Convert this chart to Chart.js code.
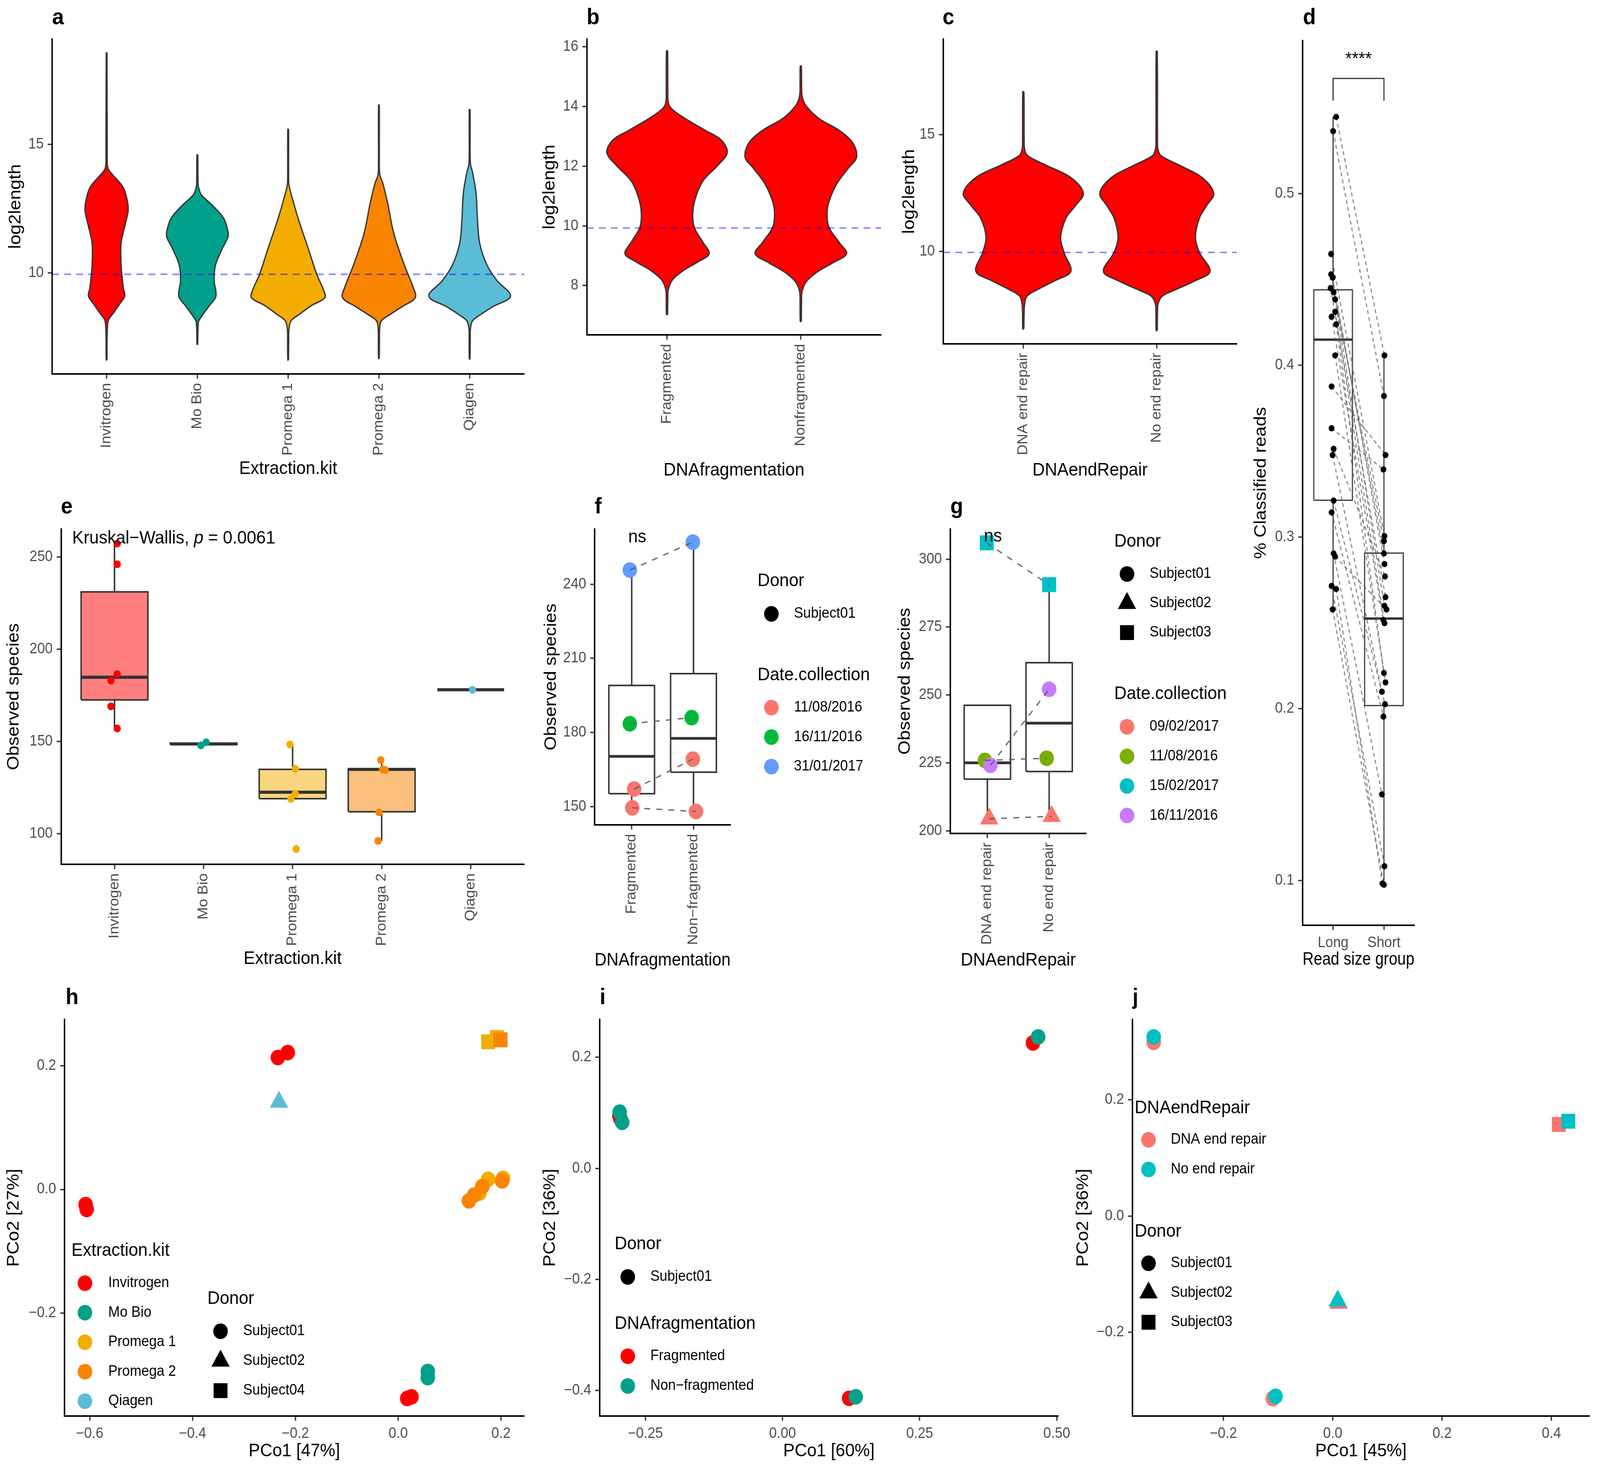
<!DOCTYPE html>
<html lang="en">
<head>
  <meta charset="UTF-8" />
  <title>Read length, diversity and PCoA by protocol</title>
  <script src="https://cdn.jsdelivr.net/npm/chart.js"></script>
  <style>
    html, body { margin: 0; padding: 0; background: #ffffff; overflow: hidden; }
    #fig { position: relative; background: #ffffff; overflow: hidden; }
    #fig canvas { position: absolute; }
  </style>
</head>
<body>
  <div id="fig"></div>

  <script>
    // ---------- data ----------
    const kits = ['Invitrogen', 'Mo Bio', 'Promega 1', 'Promega 2', 'Qiagen'];
    const kitColors = ['#FF0000', '#00A08A', '#F2AD00', '#F98400', '#5BBCD6'];
    const kitFill = ['#FF7F7F', '#7FCFC4', '#F8D67F', '#FCC17F', '#ADDDEA'];

    // violins: log2length levels and half widths (in category units)
    const aViolinY = [
      [6.60, 7.5, 8.0, 8.18, 8.48, 8.79, 9.09, 9.40, 9.70, 10.3, 11.15, 11.88, 12.43, 12.86, 13.34, 13.82, 14.07, 14.6, 18.56],
      [7.21, 7.7, 8.0, 8.12, 8.36, 8.73, 9.09, 9.7, 10.3, 10.91, 11.4, 11.64, 12.12, 12.61, 13.03, 13.34, 13.6, 14.59],
      [6.6, 7.4, 7.76, 8.12, 8.36, 8.73, 9.03, 9.33, 9.94, 10.91, 12.12, 13.1, 13.46, 14.0, 15.58],
      [6.66, 7.4, 7.8, 8.12, 8.36, 8.67, 9.03, 9.45, 10.3, 11.52, 12.73, 13.46, 13.82, 14.3, 16.53],
      [6.64, 7.4, 7.8, 8.12, 8.36, 8.67, 9.09, 9.7, 10.3, 11.15, 12.12, 13.1, 13.94, 14.19, 14.6, 16.35]
    ];
    const aViolinW = [
      [0.004, 0.006, 0.012, 0.023, 0.085, 0.145, 0.20, 0.185, 0.175, 0.16, 0.16, 0.205, 0.238, 0.225, 0.18, 0.065, 0.015, 0.007, 0.004],
      [0.004, 0.006, 0.01, 0.015, 0.058, 0.135, 0.205, 0.185, 0.20, 0.27, 0.338, 0.335, 0.29, 0.17, 0.046, 0.012, 0.007, 0.004],
      [0.004, 0.006, 0.008, 0.03, 0.115, 0.26, 0.405, 0.39, 0.315, 0.225, 0.11, 0.03, 0.008, 0.005, 0.004],
      [0.004, 0.006, 0.008, 0.025, 0.115, 0.25, 0.40, 0.375, 0.28, 0.165, 0.095, 0.045, 0.01, 0.005, 0.004],
      [0.004, 0.006, 0.008, 0.03, 0.115, 0.25, 0.45, 0.30, 0.19, 0.11, 0.085, 0.07, 0.03, 0.01, 0.005, 0.004]
    ];
    const bCats = ['Fragmented', 'Nonfragmented'];
    const bViolinY = [
      [7.03, 7.6, 7.87, 8.19, 8.5, 8.81, 9.07, 9.44, 9.96, 10.48, 11.0, 11.52, 12.03, 12.46, 12.88, 13.19, 13.6, 13.92, 14.13, 14.6, 15.86],
      [6.8, 7.5, 7.82, 8.13, 8.45, 8.76, 9.07, 9.44, 9.96, 10.48, 10.9, 11.42, 11.94, 12.3, 12.77, 13.19, 13.6, 14.02, 14.34, 14.8, 15.35]
    ];
    const bViolinW = [
      [0.004, 0.006, 0.01, 0.04, 0.12, 0.237, 0.315, 0.27, 0.203, 0.193, 0.217, 0.27, 0.38, 0.45, 0.405, 0.29, 0.135, 0.035, 0.01, 0.006, 0.004],
      [0.004, 0.006, 0.01, 0.04, 0.12, 0.237, 0.342, 0.288, 0.21, 0.197, 0.217, 0.27, 0.356, 0.417, 0.39, 0.29, 0.135, 0.04, 0.01, 0.006, 0.004]
    ];
    const cCats = ['DNA end repair', 'No end repair'];
    const cViolinY = [
      [6.67, 7.4, 7.74, 8.07, 8.34, 8.74, 9.14, 9.95, 10.61, 11.42, 11.95, 12.49, 13.16, 13.69, 14.09, 14.36, 14.8, 16.83],
      [6.6, 7.4, 7.74, 8.07, 8.34, 8.74, 9.14, 9.95, 10.61, 11.42, 11.95, 12.49, 13.16, 13.69, 14.09, 14.36, 14.8, 18.57]
    ];
    const cViolinW = [
      [0.004, 0.006, 0.01, 0.027, 0.10, 0.237, 0.356, 0.305, 0.28, 0.32, 0.39, 0.45, 0.356, 0.17, 0.034, 0.01, 0.006, 0.004],
      [0.004, 0.006, 0.01, 0.04, 0.135, 0.29, 0.40, 0.32, 0.29, 0.32, 0.373, 0.427, 0.34, 0.17, 0.034, 0.01, 0.006, 0.004]
    ];
    const refLog2 = [9.94, 9.93, 9.95];   // dashed reference line in a, b, c

    // d: paired % classified reads
    const dGroups = ['Long', 'Short'];
    const dBox = [[0.258, 0.3214, 0.4149, 0.4439, 0.5446], [0.0975, 0.2018, 0.2525, 0.2906, 0.4058]];
    const dLongY = [0.5446, 0.5363, 0.4648, 0.4529, 0.4510, 0.4449, 0.4425, 0.4383, 0.4311, 0.4282, 0.4238, 0.4057, 0.3876, 0.3633, 0.3513, 0.3477, 0.3212, 0.3143, 0.2904, 0.2886, 0.2715, 0.2697, 0.2578];
    const dShortY = [0.4057, 0.3821, 0.3005, 0.2904, 0.2842, 0.2650, 0.2976, 0.2599, 0.2498, 0.2516, 0.2208, 0.2153, 0.3477, 0.3393, 0.2770, 0.2099, 0.2026, 0.1954, 0.1501, 0.2578, 0.1083, 0.0982, 0.0975];
    const dLongX = [1.06, 1.00, 0.96, 0.96, 0.99, 0.95, 1.01, 1.04, 1.04, 0.97, 1.06, 1.04, 0.97, 0.97, 1.01, 0.99, 1.01, 0.97, 1.01, 1.04, 0.97, 1.06, 0.99];
    const dShortX = [2.01, 2.00, 2.01, 2.00, 2.01, 2.03, 2.00, 2.01, 2.01, 1.99, 2.00, 2.03, 2.03, 1.99, 2.02, 1.96, 2.02, 1.99, 1.96, 2.05, 2.01, 1.97, 2.00];
    const dBracket = [0.554, 0.567];

    // e: observed species by kit
    const eBox = [[157.0, 172.5, 184.8, 231.1, 257.6], [147.8, 148.2, 148.6, 149.1, 149.5], [118.9, 118.9, 122.4, 134.8, 148.3], [96.0, 111.8, 134.8, 135.1, 139.9], [178, 178, 178, 178, 178]];
    const ePtKit = [0, 0, 0, 0, 0, 0, 1, 1, 2, 2, 2, 2, 2, 3, 3, 3, 3, 3, 4];
    const ePtX = [1.03, 1.03, 1.03, 0.96, 0.96, 1.03, 1.97, 2.03, 2.97, 3.03, 3.03, 2.98, 3.04, 3.99, 4.01, 4.04, 3.97, 3.96, 5.02];
    const ePtY = [257.3, 246.1, 186.5, 183.0, 169.0, 157.0, 147.8, 149.5, 148.3, 135.1, 121.6, 118.8, 91.6, 139.9, 134.8, 134.5, 111.5, 96.0, 178.0];

    // f: observed species by fragmentation
    const fCats = ['Fragmented', 'Non\u2212fragmented'];
    const fDates = ['11/08/2016', '16/11/2016', '31/01/2017'];
    const fDateColors = ['#F8766D', '#00BA38', '#619CFF'];
    const fBox = [[149.5, 155.2, 170.3, 199.0, 245.7], [148.0, 163.9, 177.6, 203.8, 257.0]];
    const fDateIdx = [2, 1, 0, 0];
    const fFragY = [245.7, 183.5, 157.1, 149.5];
    const fNonY = [257.0, 186.0, 169.2, 148.0];
    const fFragX = [0.97, 0.97, 1.04, 1.01];
    const fNonX = [1.99, 1.97, 1.99, 2.04];

    // g: observed species by end repair
    const gDonors = ['Subject01', 'Subject02', 'Subject03'];
    const gDates = ['09/02/2017', '11/08/2016', '15/02/2017', '16/11/2016'];
    const gDateColors = ['#F8766D', '#7CAE00', '#00BFC4', '#C77CFF'];
    const gBox = [[204.4, 219.0, 225.0, 246.2, 246.2], [205.3, 221.8, 239.6, 261.9, 290.6]];
    const gDateIdx = [2, 1, 3, 0];
    const gDonorIdx = [2, 0, 0, 1];
    const gRepY = [306.0, 225.9, 224.1, 204.4];
    const gNoY = [290.6, 226.7, 252.1, 205.3];
    const gRepX = [0.99, 0.96, 1.05, 1.03];
    const gNoX = [2.00, 1.96, 2.00, 2.04];

    // h: PCoA by kit
    const hDonors = ['Subject01', 'Subject02', 'Subject04'];
    const hPtKit = [0, 0, 0, 0, 0, 0, 1, 1, 2, 2, 2, 2, 2, 3, 3, 3, 3, 3, 4];
    const hPtDonor = [0, 0, 0, 0, 0, 0, 0, 0, 2, 2, 0, 0, 0, 2, 0, 0, 0, 0, 1];
    const hPtX = [-0.234, -0.215, -0.608, -0.606, 0.0176, 0.0258, 0.0576, 0.0576, 0.175, 0.192, 0.175, 0.204, 0.158, 0.199, 0.1376, 0.1478, 0.1634, 0.202, -0.232];
    const hPtY = [0.213, 0.221, -0.0246, -0.0323, -0.3376, -0.335, -0.294, -0.304, 0.2385, 0.2452, 0.0164, 0.0179, -0.006, 0.2416, -0.0185, -0.0092, 0.0046, 0.0139, 0.141];

    // i: PCoA by fragmentation
    const iGroups = ['Fragmented', 'Non\u2212fragmented'];
    const iColors = ['#FF0000', '#00A08A'];
    const iPtGroup = [0, 0, 0, 0, 1, 1, 1, 1];
    const iPtX = [0.4565, -0.2975, -0.2955, 0.1214, 0.466, -0.2969, -0.2924, 0.1335];
    const iPtY = [0.2258, 0.0950, 0.0890, -0.4139, 0.2367, 0.1013, 0.0830, -0.4111];

    // j: PCoA by end repair
    const jGroups = ['DNA end repair', 'No end repair'];
    const jColors = ['#F8766D', '#00BFC4'];
    const jPtGroup = [0, 0, 0, 0, 1, 1, 1, 1];
    const jPtDonor = [0, 2, 1, 0, 0, 2, 1, 0];
    const jPtX = [-0.3274, 0.4135, 0.0111, -0.1095, -0.3274, 0.4308, 0.0092, -0.1046];
    const jPtY = [0.2984, 0.1574, -0.1497, -0.3137, 0.3077, 0.1628, -0.1459, -0.3098];

    // tick values and labels
    const violinTicksA = [10, 15];
    const violinTicksB = [8, 10, 12, 14, 16];
    const dYTicks = [0.1, 0.2, 0.3, 0.4, 0.5];
    const eYTicks = [100, 150, 200, 250];
    const fYTicks = [150, 180, 210, 240];
    const gYTicks = [200, 225, 250, 275, 300];
    const hXTicks = [-0.6, -0.4, -0.2, 0, 0.2];
    const hXLabels = ['\u22120.6', '\u22120.4', '\u22120.2', '0.0', '0.2'];
    const hYTicks = [-0.2, 0, 0.2];
    const hYLabels = ['\u22120.2', '0.0', '0.2'];
    const iXTicks = [-0.25, 0, 0.25, 0.5];
    const iXLabels = ['\u22120.25', '0.00', '0.25', '0.50'];
    const iYTicks = [-0.4, -0.2, 0, 0.2];
    const iYLabels = ['\u22120.4', '\u22120.2', '0.0', '0.2'];
    const jXTicks = [-0.2, 0, 0.2, 0.4];
    const jXLabels = ['\u22120.2', '0.0', '0.2', '0.4'];
    const jYTicks = [-0.2, 0, 0.2];
    const jYLabels = ['\u22120.2', '0.0', '0.2'];

    // ---------- drawing helpers ----------
    const FONT = "'Liberation Sans', Arial, Helvetica, sans-serif";
    Chart.defaults.font.family = FONT;
    Chart.defaults.animation = false;
    Chart.defaults.plugins.legend.display = false;
    Chart.defaults.plugins.tooltip.enabled = false;

    // the figure is laid out on a 4390 x 3757 grid; squeeze it to the real window
    const FIG_W = 4390, FIG_H = 3757;
    const SX = Math.min(1, (window.innerWidth || FIG_W) / FIG_W);
    const SY = Math.min(1, (window.innerHeight || FIG_H) / FIG_H);
    const fig = document.getElementById('fig');
    fig.style.width = FIG_W * SX + 'px';
    fig.style.height = FIG_H * SY + 'px';

    const SHAPES = ['circle', 'triangle', 'rect'];
    const SHAPE_R = { circle: 20, triangle: 29, rect: 27 };
    const range = n => Array.from({ length: n }, (_, i) => i + 1);

    function seg(pts, style) {
      return Object.assign({ data: pts, showLine: true, pointRadius: 0, fill: false,
        borderColor: '#333333', borderWidth: 3.5 }, style);
    }

    function violin(cx, ys, ws, color) {
      const right = ys.map((y, i) => ({ x: cx + ws[i], y }));
      const left = ys.map((y, i) => ({ x: cx - ws[i], y })).reverse();
      return seg(right.concat(left, [right[0]]), { fill: 'shape', backgroundColor: color,
        borderColor: '#333333', borderWidth: 3.5, tension: 0.35 });
    }

    function boxParts(cx, s, hw, opt) {
      const [lo, q1, med, q3, hi] = s;
      const out = [];
      if (hi > q3) out.push(seg([{ x: cx, y: q3 }, { x: cx, y: hi }], { borderWidth: opt.lw }));
      if (lo < q1) out.push(seg([{ x: cx, y: lo }, { x: cx, y: q1 }], { borderWidth: opt.lw }));
      out.push(seg([{ x: cx - hw, y: q1 }, { x: cx + hw, y: q1 }, { x: cx + hw, y: q3 }, { x: cx - hw, y: q3 }, { x: cx - hw, y: q1 }],
        { borderWidth: opt.lw, borderJoinStyle: 'miter', fill: opt.fill ? 'shape' : false, backgroundColor: opt.fill || 'transparent' }));
      out.push(seg([{ x: cx - hw, y: med }, { x: cx + hw, y: med }], { borderWidth: opt.medLw }));
      return out;
    }

    function pts(xs, ys, color, radius, style) {
      return { data: xs.map((x, i) => ({ x, y: ys[i] })), showLine: false,
        pointBackgroundColor: color, pointBorderWidth: 0, pointRadius: radius, pointStyle: style || 'circle' };
    }

    function drawMark(ctx, shape, r, x, y) {
      if (Chart.helpers && Chart.helpers.drawPoint) {
        Chart.helpers.drawPoint(ctx, { pointStyle: shape, radius: r, rotation: 0, borderWidth: 0 }, x, y);
        return;
      }
      ctx.beginPath();
      if (shape === 'rect') { const h = r * Math.SQRT1_2; ctx.rect(x - h, y - h, 2 * h, 2 * h); }
      else if (shape === 'triangle') { ctx.moveTo(x, y - r); ctx.lineTo(x + 0.866 * r, y + r / 2); ctx.lineTo(x - 0.866 * r, y + r / 2); ctx.closePath(); }
      else ctx.arc(x, y, r, 0, Math.PI * 2);
      ctx.fill();
    }

    // texts, panel letter and ggplot-style legends for one chart
    function extras(box, texts, legends) {
      return {
        id: 'ggExtras',
        afterDraw(chart) {
          const ctx = chart.ctx, sx = chart.scales.x, sy = chart.scales.y;
          ctx.save();
          for (const t of texts) {
            const x = t.data ? sx.getPixelForValue(t.x) : t.x - box.x0;
            const y = t.data ? sy.getPixelForValue(t.y) : t.y - box.y0;
            const parts = t.parts || [{ text: t.text }];
            const fontOf = p => `${p.italic ? 'italic ' : ''}${t.bold ? 'bold ' : ''}${t.size}px ${FONT}`;
            const widths = parts.map(p => { ctx.font = fontOf(p); return ctx.measureText(p.text).width; });
            let cx = t.align === 'center' ? x - widths.reduce((a, b) => a + b, 0) / 2 : x;
            ctx.fillStyle = '#000000';
            ctx.textAlign = 'left';
            ctx.textBaseline = t.baseline || 'middle';
            parts.forEach((p, i) => { ctx.font = fontOf(p); ctx.fillText(p.text, cx, y); cx += widths[i]; });
          }
          for (const g of legends) {
            ctx.textAlign = 'left';
            ctx.textBaseline = 'middle';
            ctx.fillStyle = '#000000';
            ctx.font = `47px ${FONT}`;
            ctx.fillText(g.title, g.x - box.x0, g.y - box.y0);
            ctx.font = `38px ${FONT}`;
            g.items.forEach((it, i) => {
              const y = g.y0 + i * g.step - box.y0;
              ctx.fillStyle = it.color;
              drawMark(ctx, it.shape, SHAPE_R[it.shape], g.sx - box.x0, y);
              ctx.fillStyle = '#000000';
              ctx.fillText(it.label, g.lx - box.x0, y);
            });
          }
          ctx.restore();
        }
      };
    }

    function panel(p) {
      const b = p.box, r = p.plot;
      const cv = document.createElement('canvas');
      cv.width = b.x1 - b.x0;
      cv.height = b.y1 - b.y0;
      cv.style.left = b.x0 * SX + 'px';
      cv.style.top = b.y0 * SY + 'px';
      cv.style.width = cv.width * SX + 'px';
      cv.style.height = cv.height * SY + 'px';
      fig.appendChild(cv);
      p.datasets.forEach((d, i) => { d.order = -i; });   // later datasets drawn on top

      const scale = (ax, horiz) => ({
        type: 'linear', min: ax.min, max: ax.max,
        afterBuildTicks: s => { s.ticks = ax.ticks.map(v => ({ value: v })); },
        afterFit: s => { if (horiz) s.height = b.y1 - r.b; else s.width = r.l - b.x0; },
        ticks: {
          autoSkip: false, color: '#4D4D4D', font: { size: 38 }, padding: 11,
          maxRotation: ax.rot || 0, minRotation: ax.rot || 0,
          callback: (v, i) => (ax.labels ? ax.labels[i] : String(v))
        },
        grid: { drawOnChartArea: false, drawTicks: true, tickLength: 12, tickWidth: 3.5, tickColor: '#333333' },
        border: { display: true, color: '#000000', width: 4 },
        title: {
          display: true, text: ax.title, color: '#000000', font: { size: 47, lineHeight: 1 },
          padding: horiz ? { top: 0, bottom: b.y1 - ax.titleAt - 23.5 } : { top: ax.titleAt - b.x0 - 23.5, bottom: 0 }
        }
      });

      return new Chart(cv, {
        type: 'scatter',
        data: { datasets: p.datasets },
        options: {
          responsive: false,
          devicePixelRatio: 1,
          layout: { padding: { top: r.t - b.y0, right: b.x1 - r.r, left: 0, bottom: 0 } },
          scales: { x: scale(p.x, true), y: scale(p.y, false) }
        },
        plugins: [extras(b, p.texts || [], p.legends || [])]
      });
    }

    const letter = (ch, x, y) => ({ text: ch, x, y, size: 58, bold: true, baseline: 'alphabetic' });
    const refLine = (v, ax) => seg([{ x: ax.min, y: v }, { x: ax.max, y: v }],
      { borderColor: 'rgba(0,0,255,0.45)', borderWidth: 4, borderDash: [19, 14] });
    const colorItems = (labels, colors) => labels.map((l, i) => ({ label: l, color: colors[i], shape: 'circle' }));
    const shapeItems = labels => labels.map((l, i) => ({ label: l, color: '#000000', shape: SHAPES[i] }));

    // ---------- a ----------
    {
      const x = { min: 0.4, max: 5.6, ticks: range(5), labels: kits, rot: 90, title: 'Extraction.kit', titleAt: 1200 };
      const ds = kits.map((k, i) => violin(i + 1, aViolinY[i], aViolinW[i], kitColors[i]));
      ds.push(refLine(refLog2[0], x));
      panel({
        box: { x0: 0, y0: 0, x1: 1480, y1: 1260 }, plot: { l: 143, t: 100, r: 1438, b: 957 },
        x, y: { min: 6.06, max: 19.1, ticks: violinTicksA, title: 'log2length', titleAt: 43 },
        datasets: ds, texts: [letter('a', 143, 62)]
      });
    }

    // ---------- b ----------
    {
      const x = { min: 0.4, max: 2.6, ticks: range(2), labels: bCats, rot: 90, title: 'DNAfragmentation', titleAt: 1204 };
      const ds = bCats.map((c, i) => violin(i + 1, bViolinY[i], bViolinW[i], '#FF0000'));
      ds.push(refLine(refLog2[1], x));
      panel({
        box: { x0: 1470, y0: 0, x1: 2470, y1: 1260 }, plot: { l: 1609.5, t: 100, r: 2417, b: 857 },
        x, y: { min: 6.35, max: 16.26, ticks: violinTicksB, title: 'log2length', titleAt: 1508 },
        datasets: ds, texts: [letter('b', 1609, 62)]
      });
    }

    // ---------- c ----------
    {
      const x = { min: 0.4, max: 2.6, ticks: range(2), labels: cCats, rot: 90, title: 'DNAendRepair', titleAt: 1204 };
      const ds = cCats.map((c, i) => violin(i + 1, cViolinY[i], cViolinW[i], '#FF0000'));
      ds.push(refLine(refLog2[2], x));
      panel({
        box: { x0: 2450, y0: 0, x1: 3440, y1: 1260 }, plot: { l: 2588, t: 100, r: 3393, b: 880 },
        x, y: { min: 6.03, max: 19.1, ticks: violinTicksA, title: 'log2length', titleAt: 2495 },
        datasets: ds, texts: [letter('c', 2586, 62)]
      });
    }

    // ---------- d ----------
    {
      const ds = [];
      dGroups.forEach((g, i) => ds.push(...boxParts(i + 1, dBox[i], 0.38, { lw: 3, medLw: 6 })));
      dLongY.forEach((y, i) => ds.push(seg([{ x: dLongX[i], y }, { x: dShortX[i], y: dShortY[i] }],
        { borderColor: 'rgba(95,95,95,0.75)', borderWidth: 3, borderDash: [10, 8] })));
      ds.push(seg([{ x: 1, y: dBracket[0] }, { x: 1, y: dBracket[1] }, { x: 2, y: dBracket[1] }, { x: 2, y: dBracket[0] }],
        { borderWidth: 3, borderColor: '#333333' }));
      ds.push(pts(dLongX, dLongY, '#000000', 8));
      ds.push(pts(dShortX, dShortY, '#000000', 8));
      panel({
        box: { x0: 3420, y0: 0, x1: 3940, y1: 2520 }, plot: { l: 3574, t: 104, r: 3881, b: 2368 },
        x: { min: 0.4, max: 2.6, ticks: range(2), labels: dGroups, rot: 0, title: 'Read size group', titleAt: 2456 },
        y: { min: 0.0739, max: 0.589, ticks: dYTicks, title: '% Classified reads', titleAt: 3460 },
        datasets: ds,
        texts: [letter('d', 3575, 62), { text: '****', data: true, x: 1.5, y: 0.578, size: 47, align: 'center' }]
      });
    }

    // ---------- e ----------
    {
      const ds = [];
      kits.forEach((k, i) => ds.push(...boxParts(i + 1, eBox[i], 0.375, { lw: 4, medLw: 8, fill: kitFill[i] })));
      ds.push(pts(ePtX, ePtY, ePtKit.map(k => kitColors[k]), 10));
      panel({
        box: { x0: 0, y0: 1270, x1: 1480, y1: 2500 }, plot: { l: 167.5, t: 1354, r: 1438, b: 2212 },
        x: { min: 0.4, max: 5.6, ticks: range(5), labels: kits, rot: 90, title: 'Extraction.kit', titleAt: 2454 },
        y: { min: 83.3, max: 265.2, ticks: eYTicks, title: 'Observed species', titleAt: 38 },
        datasets: ds,
        texts: [letter('e', 167, 1314),
          { data: true, x: 0.525, y: 260.1, size: 47,
            parts: [{ text: 'Kruskal\u2212Wallis, ' }, { text: 'p', italic: true }, { text: ' = 0.0061' }] }]
      });
    }

    // ---------- f ----------
    {
      const ds = [];
      fCats.forEach((c, i) => ds.push(...boxParts(i + 1, fBox[i], 0.37, { lw: 4, medLw: 7 })));
      fDates.forEach((d, di) => {
        const idx = fDateIdx.map((v, i) => (v === di ? i : -1)).filter(i => i >= 0);
        const xs = idx.map(i => fFragX[i]).concat(idx.map(i => fNonX[i]));
        const ys = idx.map(i => fFragY[i]).concat(idx.map(i => fNonY[i]));
        ds.push(pts(xs, ys, fDateColors[di], SHAPE_R.circle));
      });
      fFragY.forEach((y, i) => ds.push(seg([{ x: fFragX[i], y }, { x: fNonX[i], y: fNonY[i] }],
        { borderColor: 'rgba(95,95,95,0.9)', borderWidth: 3.5, borderDash: [16, 17] })));
      panel({
        box: { x0: 1470, y0: 1270, x1: 2440, y1: 2500 }, plot: { l: 1631, t: 1354, r: 2004, b: 2111 },
        x: { min: 0.4, max: 2.6, ticks: range(2), labels: fCats, rot: 90, title: 'DNAfragmentation', titleAt: 2458 },
        y: { min: 142.6, max: 262.3, ticks: fYTicks, title: 'Observed species', titleAt: 1512 },
        datasets: ds,
        texts: [letter('f', 1631, 1314), { text: 'ns', data: true, x: 1.09, y: 259, size: 47, align: 'center' }],
        legends: [
          { title: 'Donor', x: 2078, y: 1487, sx: 2116, lx: 2178, y0: 1571, step: 75.5, items: shapeItems(['Subject01']) },
          { title: 'Date.collection', x: 2078, y: 1728, sx: 2116, lx: 2178, y0: 1811, step: 75.5, items: colorItems(fDates, fDateColors) }
        ]
      });
    }

    // ---------- g ----------
    {
      const ds = [];
      cCats.forEach((c, i) => ds.push(...boxParts(i + 1, gBox[i], 0.375, { lw: 4, medLw: 7 })));
      gDates.forEach((d, di) => {
        const idx = gDateIdx.map((v, i) => (v === di ? i : -1)).filter(i => i >= 0);
        const xs = idx.map(i => gRepX[i]).concat(idx.map(i => gNoX[i]));
        const ys = idx.map(i => gRepY[i]).concat(idx.map(i => gNoY[i]));
        const sh = idx.map(i => SHAPES[gDonorIdx[i]]).concat(idx.map(i => SHAPES[gDonorIdx[i]]));
        ds.push(pts(xs, ys, gDateColors[di], sh.map(s => SHAPE_R[s]), sh));
      });
      gRepY.forEach((y, i) => ds.push(seg([{ x: gRepX[i], y }, { x: gNoX[i], y: gNoY[i] }],
        { borderColor: 'rgba(95,95,95,0.9)', borderWidth: 3.5, borderDash: [16, 17] })));
      panel({
        box: { x0: 2440, y0: 1270, x1: 3420, y1: 2500 }, plot: { l: 2607, t: 1354, r: 2980, b: 2133 },
        x: { min: 0.4, max: 2.6, ticks: range(2), labels: cCats, rot: 90, title: 'DNAendRepair', titleAt: 2458 },
        y: { min: 199, max: 311.1, ticks: gYTicks, title: 'Observed species', titleAt: 2483 },
        datasets: ds,
        texts: [letter('g', 2607, 1314), { text: 'ns', data: true, x: 1.09, y: 308.3, size: 47, align: 'center' }],
        legends: [
          { title: 'Donor', x: 3057, y: 1386, sx: 3092, lx: 3154, y0: 1469, step: 75, items: shapeItems(gDonors) },
          { title: 'Date.collection', x: 3057, y: 1776, sx: 3092, lx: 3154, y0: 1860, step: 75.7, items: colorItems(gDates, gDateColors) }
        ]
      });
    }

    // ---------- h ----------
    {
      const ds = kits.map((k, ki) => {
        const idx = hPtKit.map((v, i) => (v === ki ? i : -1)).filter(i => i >= 0);
        const sh = idx.map(i => SHAPES[hPtDonor[i]]);
        return pts(idx.map(i => hPtX[i]), idx.map(i => hPtY[i]), kitColors[ki], sh.map(s => SHAPE_R[s]), sh);
      });
      panel({
        box: { x0: 0, y0: 2500, x1: 1480, y1: 3757 }, plot: { l: 177, t: 2609, r: 1438, b: 3624 },
        x: { min: -0.649, max: 0.245, ticks: hXTicks, labels: hXLabels, title: 'PCo1 [47%]', titleAt: 3714 },
        y: { min: -0.366, max: 0.2745, ticks: hYTicks, labels: hYLabels, title: 'PCo2 [27%]', titleAt: 38 },
        datasets: ds,
        texts: [letter('h', 180, 2570)],
        legends: [
          { title: 'Extraction.kit', x: 196, y: 3201, sx: 233, lx: 297, y0: 3284, step: 75.5, items: colorItems(kits, kitColors) },
          { title: 'Donor', x: 569, y: 3324, sx: 605, lx: 667, y0: 3407, step: 76, items: shapeItems(hDonors) }
        ]
      });
    }

    // ---------- i ----------
    {
      const ds = iGroups.map((g, gi) => {
        const idx = iPtGroup.map((v, i) => (v === gi ? i : -1)).filter(i => i >= 0);
        return pts(idx.map(i => iPtX[i]), idx.map(i => iPtY[i]), iColors[gi], SHAPE_R.circle);
      });
      panel({
        box: { x0: 1470, y0: 2500, x1: 2960, y1: 3757 }, plot: { l: 1645, t: 2609, r: 2903, b: 3624 },
        x: { min: -0.3333, max: 0.5025, ticks: iXTicks, labels: iXLabels, title: 'PCo1 [60%]', titleAt: 3714 },
        y: { min: -0.4458, max: 0.2681, ticks: iYTicks, labels: iYLabels, title: 'PCo2 [36%]', titleAt: 1509 },
        datasets: ds,
        texts: [letter('i', 1645, 2570)],
        legends: [
          { title: 'Donor', x: 1686, y: 3184, sx: 1722, lx: 1784, y0: 3268, step: 76, items: shapeItems(['Subject01']) },
          { title: 'DNAfragmentation', x: 1686, y: 3388, sx: 1722, lx: 1784, y0: 3471, step: 76, items: colorItems(iGroups, iColors) }
        ]
      });
    }

    // ---------- j ----------
    {
      const ds = jGroups.map((g, gi) => {
        const idx = jPtGroup.map((v, i) => (v === gi ? i : -1)).filter(i => i >= 0);
        const sh = idx.map(i => SHAPES[jPtDonor[i]]);
        return pts(idx.map(i => jPtX[i]), idx.map(i => jPtY[i]), jColors[gi], sh.map(s => SHAPE_R[s]), sh);
      });
      panel({
        box: { x0: 2930, y0: 2500, x1: 4390, y1: 3757 }, plot: { l: 3107, t: 2609, r: 4371, b: 3624 },
        x: { min: -0.3662, max: 0.4695, ticks: jXTicks, labels: jXLabels, title: 'PCo1 [45%]', titleAt: 3714 },
        y: { min: -0.3437, max: 0.3377, ticks: jYTicks, labels: jYLabels, title: 'PCo2 [36%]', titleAt: 2972 },
        datasets: ds,
        texts: [letter('j', 3107, 2570)],
        legends: [
          { title: 'DNAendRepair', x: 3113, y: 2836, sx: 3151, lx: 3212, y0: 2917, step: 76, items: colorItems(jGroups, jColors) },
          { title: 'Donor', x: 3113, y: 3152, sx: 3151, lx: 3212, y0: 3233, step: 75.5, items: shapeItems(gDonors) }
        ]
      });
    }
  </script>
</body>
</html>
